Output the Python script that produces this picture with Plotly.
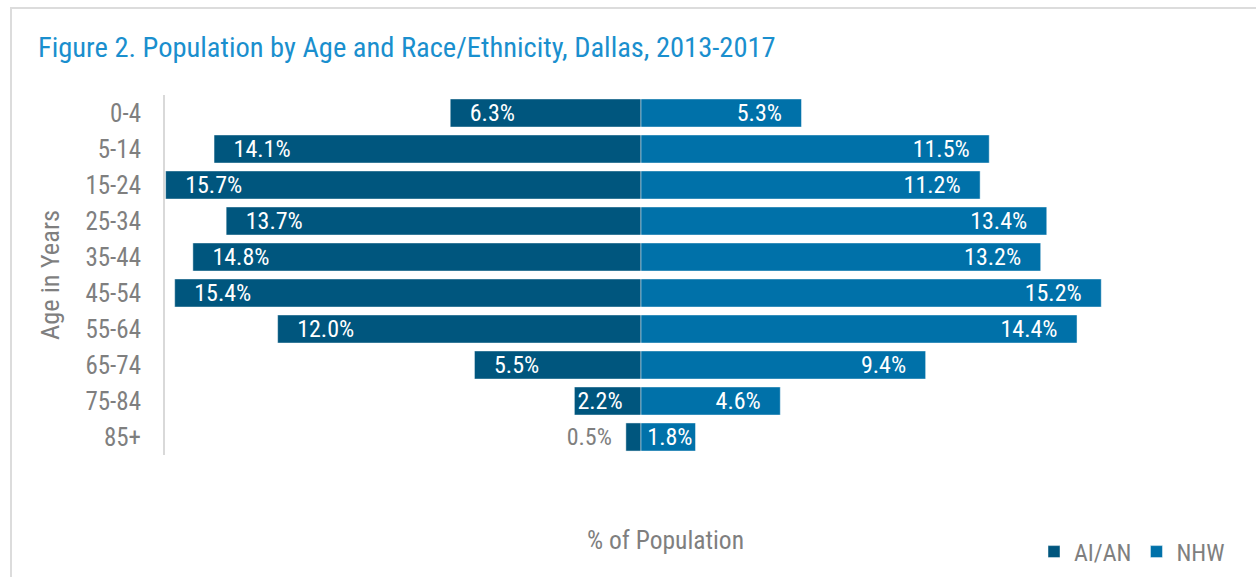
import plotly.graph_objects as go

ages = ["0-4", "5-14", "15-24", "25-34", "35-44", "45-54", "55-64", "65-74", "75-84", "85+"]
aian = [6.3, 14.1, 15.7, 13.7, 14.8, 15.4, 12.0, 5.5, 2.2, 0.5]
nhw = [5.3, 11.5, 11.2, 13.4, 13.2, 15.2, 14.4, 9.4, 4.6, 1.8]

FONT = "Roboto Condensed, Liberation Sans Narrow, Arial Narrow, sans-serif"
GRAY = "#7f7f7f"
DARK = "#00567e"
LIGHT = "#0071a9"
PAD = "\u00a0\u00a0\u00a0"


def labels(vals, left):
    out = []
    for v in vals:
        s = f"{v:.1f}%"
        if v < 1:
            s = s + "\u00a0\u00a0"  # outside label sits a bit off the bar
        elif v > 3:
            s = PAD + s if left else s + PAD
        out.append(s)
    return out


def positions(vals):
    return ["outside" if v < 1 else "inside" for v in vals]


fig = go.Figure()
fig.add_trace(go.Bar(
    y=ages, x=[-v for v in aian], orientation="h", name="AI/AN",
    marker=dict(color=DARK, line=dict(color="rgba(255,255,255,0.45)", width=1)),
    text=labels(aian, True), textposition=positions(aian),
    insidetextanchor="end", constraintext="none",
    insidetextfont=dict(color="white", size=24, family=FONT),
    outsidetextfont=dict(color=GRAY, size=24, family=FONT),
    cliponaxis=False,
))
fig.add_trace(go.Bar(
    y=ages, x=nhw, orientation="h", name="NHW",
    marker=dict(color=LIGHT, line=dict(color="rgba(255,255,255,0.45)", width=1)),
    text=labels(nhw, False), textposition=positions(nhw),
    insidetextanchor="end", constraintext="none",
    insidetextfont=dict(color="white", size=24, family=FONT),
    outsidetextfont=dict(color=GRAY, size=24, family=FONT),
    cliponaxis=False,
))

fig.update_layout(
    width=1256, height=577,
    margin=dict(l=165, r=139, t=95, b=122),
    paper_bgcolor="white", plot_bgcolor="white",
    barmode="relative", bargap=0.22,
    font=dict(family=FONT, color=GRAY, size=24),
    title=dict(
        text="Figure 2. Population by Age and Race/Ethnicity, Dallas, 2013-2017",
        font=dict(family=FONT, size=28.5, color="#1a8fce"),
        xref="container", x=38 / 1256, xanchor="left",
        yref="container", y=1 - 47 / 577, yanchor="middle",
    ),
    xaxis=dict(range=[-15.72, 15.72], showticklabels=False, showgrid=False,
               zeroline=False, showline=False, fixedrange=True),
    yaxis=dict(autorange="reversed", showgrid=False, zeroline=False,
               showline=True, linecolor="#d9d9d9", linewidth=2,
               ticks="outside", ticklen=17, tickcolor="rgba(0,0,0,0)",
               tickfont=dict(size=25, color=GRAY),
               title=dict(text="Age in Years", standoff=18,
                          font=dict(size=26.5, color=GRAY))),
    legend=dict(orientation="h", xref="container", yref="container",
                x=1230 / 1256, xanchor="right", y=1 - 552 / 577, yanchor="middle",
                font=dict(size=24, color=GRAY), itemwidth=30,
                tracegroupgap=0),
    annotations=[dict(text="% of Population", xref="paper", yref="paper",
                      x=(665 - 165) / 952, y=(455 - 540) / 360, yanchor="middle",
                      showarrow=False, font=dict(size=25.5, color=GRAY))],
    shapes=[dict(type="rect", xref="paper", yref="paper",
                 x0=(11 - 165) / 952, x1=1.3, y0=-0.6, y1=(455 - 8) / 360,
                 line=dict(color="#dcdcdc", width=2), layer="below")],
)

# drop the browser's default 8px body margin so the figure sits at 0,0
fig.write_html("out.html", config={"displayModeBar": False},
               post_script="document.body.style.margin='0px';")
